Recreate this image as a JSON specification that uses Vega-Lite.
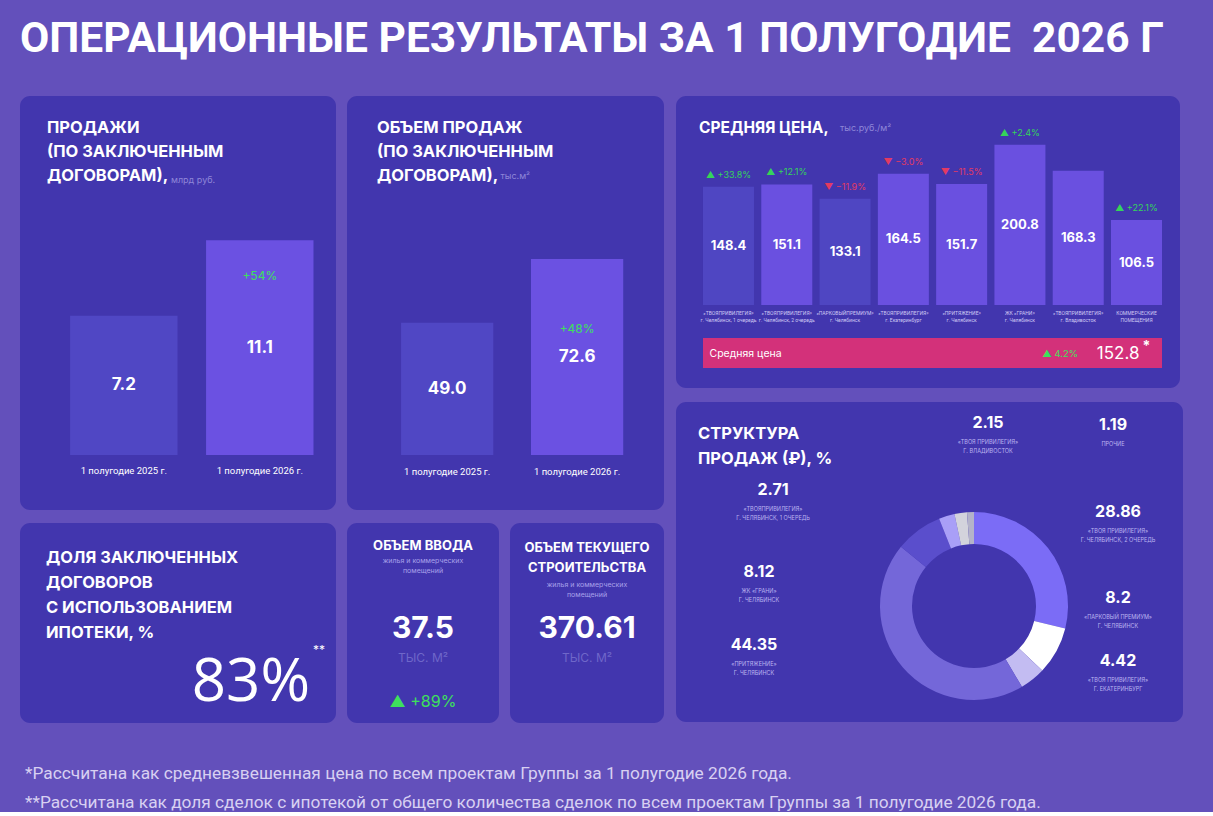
{
  "$schema": "https://vega.github.io/schema/vega-lite/v6.json",
  "background": "#6350bb",
  "padding": {"left": 20, "top": 17, "right": 30, "bottom": 0},
  "title": {
    "text": "ОПЕРАЦИОННЫЕ РЕЗУЛЬТАТЫ ЗА 1 ПОЛУГОДИЕ \u00a02026 Г",
    "anchor": "start",
    "frame": "group",
    "font": "Roboto",
    "fontSize": 42.5,
    "fontWeight": "bold",
    "color": "#ffffff",
    "offset": 36
  },
  "config": {
    "view": {"fill": "#4236ae", "stroke": null, "cornerRadius": 10},
    "font": "Inter",
    "title": {"color": "#ffffff", "font": "Inter", "fontWeight": "bold", "anchor": "start", "frame": "group"},
    "text": {"color": "#ffffff", "font": "Inter"}
  },
  "vconcat": [
    {
      "spacing": 12,
      "title": {
        "text": [
          "*Рассчитана как средневзвешенная цена по всем проектам Группы за 1 полугодие 2026 года.",
          "**Рассчитана как доля сделок с ипотекой от общего количества сделок по всем проектам Группы за 1 полугодие 2026 года."
        ],
        "orient": "bottom",
        "anchor": "start",
        "frame": "group",
        "font": "Roboto",
        "fontSize": 17.3,
        "fontWeight": "normal",
        "color": "#d8d0f2",
        "lineHeight": 29,
        "offset": 42,
        "dx": 5
      },
      "hconcat": [
        {
          "spacing": 13,
          "vconcat": [
            {
              "spacing": 11,
              "hconcat": [
                {
                  "width": 316,
                  "height": 414,
                  "view": {"fill": "#4236ae", "stroke": null, "cornerRadius": 10},
                  "title": {"text": ["ПРОДАЖИ", "(ПО ЗАКЛЮЧЕННЫМ", "ДОГОВОРАМ),"], "offset": -88, "dx": 27, "fontSize": 16.5, "lineHeight": 24},
                  "data": {"values": [
                    {"period": "1 полугодие 2025 г.", "sales": 7.2},
                    {"period": "1 полугодие 2026 г.", "sales": 11.1, "growth": "+54%"}
                  ]},
                  "layer": [
                    {
                      "mark": {"type": "bar"},
                      "encoding": {
                        "x": {"field": "period", "type": "nominal", "sort": null,
                          "scale": {"paddingInner": 0.21, "paddingOuter": 0.267, "align": 0.69},
                          "axis": {"orient": "bottom", "offset": -55, "domain": false, "ticks": false, "title": null, "labelAngle": 0, "labelPadding": 10, "labelColor": "#ffffff", "labelFont": "Roboto", "labelFontSize": 9.5}},
                        "y": {"field": "sales", "type": "quantitative", "scale": {"domain": [-2.84, 18.55], "nice": false, "zero": false}, "axis": null},
                        "color": {"condition": {"test": "datum.period == '1 полугодие 2026 г.'", "value": "#6b51e2"}, "value": "#5047c4"}
                      }
                    },
                    {
                      "transform": [{"calculate": "datum.sales / 2", "as": "mid"}],
                      "mark": {"type": "text", "fontSize": 17, "fontWeight": "bold", "baseline": "middle"},
                      "encoding": {
                        "x": {"field": "period", "type": "nominal", "sort": null},
                        "y": {"field": "mid", "type": "quantitative"},
                        "text": {"field": "sales", "type": "quantitative", "format": ".1f"}
                      }
                    },
                    {
                      "transform": [{"filter": "datum.growth"}],
                      "mark": {"type": "text", "fontSize": 12, "color": "#3ee05c", "baseline": "middle", "dy": 36},
                      "encoding": {
                        "x": {"field": "period", "type": "nominal", "sort": null},
                        "y": {"field": "sales", "type": "quantitative"},
                        "text": {"field": "growth"}
                      }
                    },
                    {
                      "data": {"values": [{"unit": "млрд руб."}]},
                      "mark": {"type": "text", "align": "left", "baseline": "middle", "fontSize": 9, "color": "#8f86d8", "dx": -7, "dy": -123},
                      "encoding": {"text": {"field": "unit"}}
                    }
                  ]
                },
                {
                  "width": 317,
                  "height": 414,
                  "view": {"fill": "#4236ae", "stroke": null, "cornerRadius": 10},
                  "title": {"text": ["ОБЪЕМ ПРОДАЖ", "(ПО ЗАКЛЮЧЕННЫМ", "ДОГОВОРАМ),"], "offset": -88, "dx": 30, "fontSize": 16.5, "lineHeight": 24},
                  "data": {"values": [
                    {"period": "1 полугодие 2025 г.", "area": 49.0},
                    {"period": "1 полугодие 2026 г.", "area": 72.6, "growth": "+48%"}
                  ]},
                  "layer": [
                    {
                      "mark": {"type": "bar"},
                      "encoding": {
                        "x": {"field": "period", "type": "nominal", "sort": null,
                          "scale": {"paddingInner": 0.29, "paddingOuter": 0.365, "align": 0.57},
                          "axis": {"orient": "bottom", "offset": -55, "domain": false, "ticks": false, "title": null, "labelAngle": 0, "labelPadding": 11, "labelColor": "#ffffff", "labelFont": "Roboto", "labelFontSize": 9.5}},
                        "y": {"field": "area", "type": "quantitative", "scale": {"domain": [-20.4, 133], "nice": false, "zero": false}, "axis": null},
                        "color": {"condition": {"test": "datum.period == '1 полугодие 2026 г.'", "value": "#6b51e2"}, "value": "#5047c4"}
                      }
                    },
                    {
                      "transform": [{"calculate": "datum.area / 2", "as": "mid"}],
                      "mark": {"type": "text", "fontSize": 17, "fontWeight": "bold", "baseline": "middle"},
                      "encoding": {
                        "x": {"field": "period", "type": "nominal", "sort": null},
                        "y": {"field": "mid", "type": "quantitative"},
                        "text": {"field": "area", "type": "quantitative", "format": ".1f"}
                      }
                    },
                    {
                      "transform": [{"filter": "datum.growth"}],
                      "mark": {"type": "text", "fontSize": 12, "color": "#3ee05c", "baseline": "middle", "dy": 70},
                      "encoding": {
                        "x": {"field": "period", "type": "nominal", "sort": null},
                        "y": {"field": "area", "type": "quantitative"},
                        "text": {"field": "growth"}
                      }
                    },
                    {
                      "data": {"values": [{"unit": "тыс.м²"}]},
                      "mark": {"type": "text", "align": "left", "baseline": "middle", "fontSize": 9, "color": "#8f86d8", "dx": -5, "dy": -127},
                      "encoding": {"text": {"field": "unit"}}
                    }
                  ]
                }
              ]
            },
            {
              "spacing": 11,
              "hconcat": [
                {
                  "width": 316,
                  "height": 200,
                  "view": {"fill": "#4236ae", "stroke": null, "cornerRadius": 10},
                  "title": {"text": ["ДОЛЯ ЗАКЛЮЧЕННЫХ", "ДОГОВОРОВ", "С ИСПОЛЬЗОВАНИЕМ", "ИПОТЕКИ, %"], "offset": -118, "dx": 26, "fontSize": 16.5, "lineHeight": 25},
                  "data": {"values": [{"metric": "Доля договоров с ипотекой", "share": 83}]},
                  "layer": [
                    {
                      "transform": [{"calculate": "datum.share + '%'", "as": "label"}],
                      "mark": {"type": "text", "fontSize": 60, "fontWeight": "normal", "font": "Open Sans", "align": "right", "baseline": "middle", "dx": 132, "dy": 60},
                      "encoding": {"text": {"field": "label"}}
                    },
                    {
                      "mark": {"type": "text", "text": "**", "fontSize": 12, "align": "left", "baseline": "middle", "dx": 135, "dy": 27},
                      "encoding": {}
                    }
                  ]
                },
                {
                  "width": 152,
                  "height": 200,
                  "view": {"fill": "#4236ae", "stroke": null, "cornerRadius": 10},
                  "title": {"text": "ОБЪЕМ ВВОДА", "anchor": "middle", "fontSize": 13, "subtitle": ["жилья и коммерческих", "помещений"], "subtitleFont": "Inter", "subtitleFontSize": 7, "subtitleColor": "#a9a1ea", "subtitleLineHeight": 10, "subtitlePadding": 4, "offset": -51},
                  "data": {"values": [{"metric": "Объем ввода", "value": 37.5, "unit": "ТЫС. М²", "change": 89}]},
                  "layer": [
                    {
                      "mark": {"type": "text", "fontSize": 30, "fontWeight": "bold", "baseline": "middle", "dy": 6},
                      "encoding": {"text": {"field": "value", "type": "nominal"}}
                    },
                    {
                      "mark": {"type": "text", "fontSize": 12, "color": "#6f67c9", "baseline": "middle", "dy": 35},
                      "encoding": {"text": {"field": "unit"}}
                    },
                    {
                      "transform": [{"calculate": "'▲ +' + datum.change + '%'", "as": "chgLabel"}],
                      "mark": {"type": "text", "fontSize": 16, "color": "#3ee05c", "baseline": "middle", "dy": 79},
                      "encoding": {"text": {"field": "chgLabel"}}
                    }
                  ]
                },
                {
                  "width": 154,
                  "height": 200,
                  "view": {"fill": "#4236ae", "stroke": null, "cornerRadius": 10},
                  "title": {"text": ["ОБЪЕМ ТЕКУЩЕГО", "СТРОИТЕЛЬСТВА"], "anchor": "middle", "fontSize": 13, "lineHeight": 20, "subtitle": ["жилья и коммерческих", "помещений"], "subtitleFont": "Inter", "subtitleFontSize": 7, "subtitleColor": "#a9a1ea", "subtitleLineHeight": 10, "subtitlePadding": 6, "offset": -75},
                  "data": {"values": [{"metric": "Объем текущего строительства", "value": 370.61, "unit": "ТЫС. М²"}]},
                  "layer": [
                    {
                      "mark": {"type": "text", "fontSize": 30, "fontWeight": "bold", "baseline": "middle", "dy": 6},
                      "encoding": {"text": {"field": "value", "type": "nominal"}}
                    },
                    {
                      "mark": {"type": "text", "fontSize": 12, "color": "#6f67c9", "baseline": "middle", "dy": 35},
                      "encoding": {"text": {"field": "unit"}}
                    }
                  ]
                }
              ]
            }
          ]
        },
        {
          "spacing": 14,
          "vconcat": [
            {
              "width": 504,
              "height": 292,
              "view": {"fill": "#4236ae", "stroke": null, "cornerRadius": 10},
              "title": {"text": "СРЕДНЯЯ ЦЕНА,", "offset": -40, "dx": 23, "fontSize": 15.5},
              "data": {"values": [
                {"project": "«ТВОЯПРИВИЛЕГИЯ»|г. Челябинск, 1 очередь", "price": 148.4, "chg": 33.8},
                {"project": "«ТВОЯПРИВИЛЕГИЯ»|г. Челябинск, 2 очередь", "price": 151.1, "chg": 12.1},
                {"project": "«ПАРКОВЫЙПРЕМИУМ»|г. Челябинск", "price": 133.1, "chg": -11.9},
                {"project": "«ТВОЯПРИВИЛЕГИЯ»|г. Екатеринбург", "price": 164.5, "chg": -3.0},
                {"project": "«ПРИТЯЖЕНИЕ»|г. Челябинск", "price": 151.7, "chg": -11.5},
                {"project": "ЖК «ГРАНИ»|г. Челябинск", "price": 200.8, "chg": 2.4},
                {"project": "«ТВОЯПРИВИЛЕГИЯ»|г. Владивосток", "price": 168.3, "chg": null},
                {"project": "КОММЕРЧЕСКИЕ|ПОМЕЩЕНИЯ", "price": 106.5, "chg": 22.1}
              ]},
              "layer": [
                {
                  "mark": {"type": "bar"},
                  "encoding": {
                    "x": {"field": "project", "type": "nominal", "sort": null,
                      "scale": {"paddingInner": 0.125, "paddingOuter": 0.386, "align": 0.6},
                      "axis": {"orient": "bottom", "offset": -83, "domain": false, "ticks": false, "title": null, "labelAngle": 0, "labelPadding": 5, "labelColor": "#cfc9f4", "labelFont": "Roboto", "labelFontSize": 5, "labelLineHeight": 7, "labelOverlap": false, "labelExpr": "split(datum.label, '|')"}},
                    "y": {"field": "price", "type": "quantitative", "scale": {"domain": [-104, 262], "nice": false, "zero": false}, "axis": null},
                    "color": {
                      "condition": {"test": "datum.project == '«ТВОЯПРИВИЛЕГИЯ»|г. Челябинск, 1 очередь' || datum.project == '«ПАРКОВЫЙПРЕМИУМ»|г. Челябинск'", "value": "#4f46c2"},
                      "value": "#6a50e0"
                    }
                  }
                },
                {
                  "transform": [{"calculate": "datum.price / 2", "as": "mid"}],
                  "mark": {"type": "text", "fontSize": 13, "fontWeight": "bold", "baseline": "middle"},
                  "encoding": {
                    "x": {"field": "project", "type": "nominal", "sort": null},
                    "y": {"field": "mid", "type": "quantitative"},
                    "text": {"field": "price", "type": "quantitative", "format": ".1f"}
                  }
                },
                {
                  "transform": [
                    {"filter": "isValid(datum.chg)"},
                    {"calculate": "(datum.chg >= 0 ? '▲ +' : '▼ ') + format(datum.chg, '.1f') + '%'", "as": "chgLabel"}
                  ],
                  "mark": {"type": "text", "fontSize": 9, "baseline": "middle", "dy": -12},
                  "encoding": {
                    "x": {"field": "project", "type": "nominal", "sort": null},
                    "y": {"field": "price", "type": "quantitative"},
                    "text": {"field": "chgLabel"},
                    "color": {"condition": {"test": "datum.chg < 0", "value": "#e23a63"}, "value": "#35d45a"}
                  }
                },
                {
                  "data": {"values": [{"unit": "тыс.руб./м²"}]},
                  "mark": {"type": "text", "align": "left", "baseline": "middle", "fontSize": 9, "color": "#8f86d8", "dx": -88, "dy": -114},
                  "encoding": {"text": {"field": "unit"}}
                },
                {
                  "data": {"values": [{"label": "Средняя цена", "avg": 152.8, "chg": 4.2}]},
                  "layer": [
                    {
                      "mark": {"type": "rect", "color": "#d3317a"},
                      "encoding": {
                        "x": {"datum": "«ТВОЯПРИВИЛЕГИЯ»|г. Челябинск, 1 очередь", "type": "nominal", "bandPosition": 0},
                        "x2": {"datum": "КОММЕРЧЕСКИЕ|ПОМЕЩЕНИЯ", "bandPosition": 1},
                        "y": {"datum": -41.4, "type": "quantitative"},
                        "y2": {"datum": -79}
                      }
                    },
                    {
                      "mark": {"type": "text", "align": "left", "baseline": "middle", "fontSize": 10.5, "dx": -19},
                      "encoding": {
                        "x": {"datum": "«ТВОЯПРИВИЛЕГИЯ»|г. Челябинск, 1 очередь", "type": "nominal"},
                        "y": {"datum": -61, "type": "quantitative"},
                        "text": {"field": "label"}
                      }
                    },
                    {
                      "transform": [{"calculate": "'▲ ' + format(datum.chg, '.1f') + '%'", "as": "chgLabel"}],
                      "mark": {"type": "text", "align": "center", "baseline": "middle", "fontSize": 9.5, "color": "#3ee05c", "dx": -18},
                      "encoding": {
                        "x": {"datum": "«ТВОЯПРИВИЛЕГИЯ»|г. Владивосток", "type": "nominal"},
                        "y": {"datum": -61, "type": "quantitative"},
                        "text": {"field": "chgLabel"}
                      }
                    },
                    {
                      "mark": {"type": "text", "align": "right", "baseline": "middle", "fontSize": 17, "dx": 3},
                      "encoding": {
                        "x": {"datum": "КОММЕРЧЕСКИЕ|ПОМЕЩЕНИЯ", "type": "nominal"},
                        "y": {"datum": -61, "type": "quantitative"},
                        "text": {"field": "avg", "type": "quantitative", "format": ".1f"}
                      }
                    },
                    {
                      "mark": {"type": "text", "text": "*", "align": "left", "baseline": "middle", "fontSize": 14, "fontWeight": "bold", "dx": 6, "dy": -7},
                      "encoding": {
                        "x": {"datum": "КОММЕРЧЕСКИЕ|ПОМЕЩЕНИЯ", "type": "nominal"},
                        "y": {"datum": -61, "type": "quantitative"}
                      }
                    }
                  ]
                }
              ]
            },
            {
              "width": 507,
              "height": 320,
              "view": {"fill": "#4236ae", "stroke": null, "cornerRadius": 10},
              "title": {"text": ["СТРУКТУРА", "ПРОДАЖ (₽), %"], "offset": -65, "dx": 22, "fontSize": 16.5, "lineHeight": 25},
              "data": {"values": [
                {"idx": 1, "name": "«ТВОЯ ПРИВИЛЕГИЯ»|Г. ЧЕЛЯБИНСК, 2 ОЧЕРЕДЬ", "share": 28.86},
                {"idx": 2, "name": "«ПАРКОВЫЙ ПРЕМИУМ»|Г. ЧЕЛЯБИНСК", "share": 8.2},
                {"idx": 3, "name": "«ТВОЯ ПРИВИЛЕГИЯ»|Г. ЕКАТЕРИНБУРГ", "share": 4.42},
                {"idx": 4, "name": "«ПРИТЯЖЕНИЕ»|Г. ЧЕЛЯБИНСК", "share": 44.35},
                {"idx": 5, "name": "ЖК «ГРАНИ»|Г. ЧЕЛЯБИНСК", "share": 8.12},
                {"idx": 6, "name": "«ТВОЯПРИВИЛЕГИЯ»|Г. ЧЕЛЯБИНСК, 1 ОЧЕРЕДЬ", "share": 2.71},
                {"idx": 7, "name": "«ТВОЯ ПРИВИЛЕГИЯ»|Г. ВЛАДИВОСТОК", "share": 2.15},
                {"idx": 8, "name": "ПРОЧИЕ", "share": 1.19}
              ]},
              "layer": [
                {
                  "mark": {"type": "arc", "outerRadius": 94, "innerRadius": 62, "xOffset": 44.5, "yOffset": 44},
                  "encoding": {
                    "theta": {"field": "share", "type": "quantitative", "stack": true},
                    "order": {"field": "idx", "type": "quantitative"},
                    "color": {"field": "idx", "type": "ordinal", "scale": {"domain": [1, 2, 3, 4, 5, 6, 7, 8], "range": ["#7b6cf6", "#ffffff", "#c3bcf2", "#7467d9", "#5a4ecc", "#a99ff7", "#d3d3dc", "#b4b3c9"]}, "legend": null}
                  }
                },
                {
                  "mark": {"type": "text", "fontSize": 16, "fontWeight": "bold", "baseline": "middle"},
                  "encoding": {
                    "x": {"field": "idx", "type": "quantitative", "scale": {"domain": [1, 2, 3, 4, 5, 6, 7, 8], "range": [442, 442, 442, 78, 83, 97, 312, 437], "zero": false, "nice": false}, "axis": null},
                    "y": {"field": "idx", "type": "quantitative", "scale": {"domain": [1, 2, 3, 4, 5, 6, 7, 8], "range": [110, 196, 259, 243, 170, 88, 21, 23], "zero": false, "nice": false}, "axis": null},
                    "text": {"field": "share", "type": "nominal"}
                  }
                },
                {
                  "transform": [{"calculate": "split(datum.name, '|')", "as": "lines"}],
                  "mark": {"type": "text", "fontSize": 5.5, "color": "#bcb5f0", "baseline": "middle", "dy": 19, "lineHeight": 8.5},
                  "encoding": {
                    "x": {"field": "idx", "type": "quantitative"},
                    "y": {"field": "idx", "type": "quantitative"},
                    "text": {"field": "lines"}
                  }
                }
              ]
            }
          ]
        }
      ]
    }
  ]
}
